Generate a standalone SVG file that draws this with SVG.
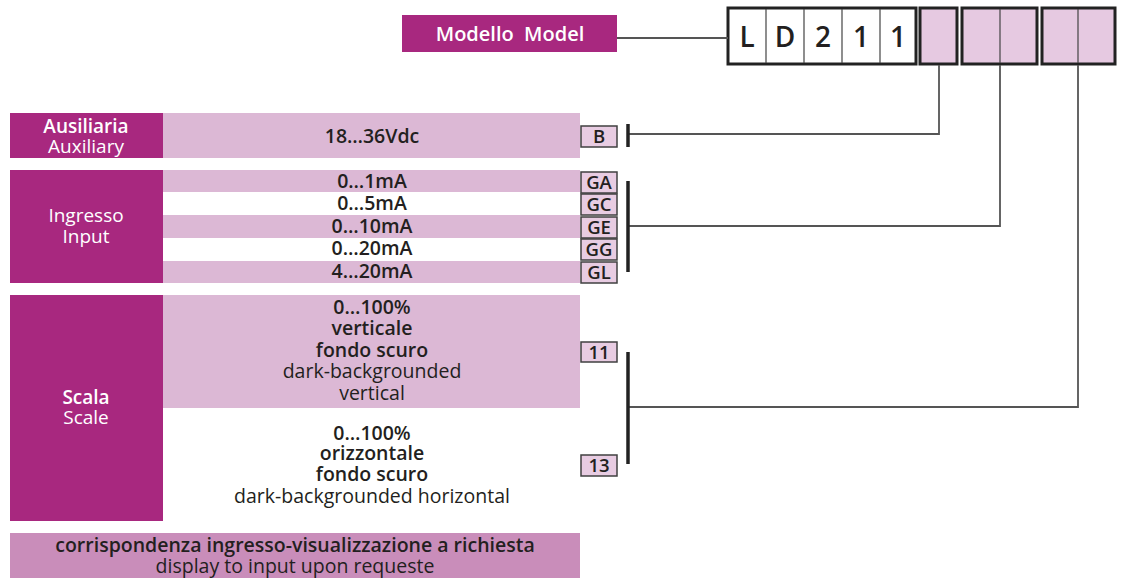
<svg xmlns="http://www.w3.org/2000/svg" width="1121" height="578" viewBox="0 0 1121 578">
<style>
text{font-family:"Open Sans","Liberation Sans",sans-serif;fill:#231f20;text-anchor:middle}
.w{fill:#ffffff}
.sb{font-weight:600}
.n{font-weight:400}
.t{font-size:19.5px}
.h{font-size:19px}
.head{fill:#a8287f}
.bar{fill:#dcb8d5}
.code rect{fill:#e8cce2;stroke:#404040;stroke-width:1.5}
.code text{font-size:18.5px;font-weight:600}
.cell{fill:#e6c9e1;stroke:#222;stroke-width:3}
.div{stroke:#444;stroke-width:1.2}
.conn{fill:none;stroke:#555;stroke-width:1.8}
.brk{stroke:#222;stroke-width:3.5}
</style>

<g id="model">
<rect class="head" x="402" y="15" width="215" height="37"/>
<text class="w sb" x="510" y="41" font-size="20">Modello&#160; Model</text>
</g>

<g id="code-fixed">
<rect x="728" y="8" width="188" height="56" fill="#fff" stroke="#222" stroke-width="3"/>
<line class="div" x1="766" y1="9" x2="766" y2="63"/>
<line class="div" x1="804" y1="9" x2="804" y2="63"/>
<line class="div" x1="842" y1="9" x2="842" y2="63"/>
<line class="div" x1="880" y1="9" x2="880" y2="63"/>
<text class="sb" x="747" y="47" font-size="28">L</text>
<text class="sb" x="785" y="47" font-size="28">D</text>
<text class="sb" x="823" y="47" font-size="28">2</text>
<text class="sb" x="861" y="47" font-size="28">1</text>
<text class="sb" x="898" y="47" font-size="28">1</text>
</g>
<g id="code-aux"><rect class="cell" x="920" y="8" width="37" height="56"/></g>
<g id="code-input"><rect class="cell" x="962" y="8" width="75" height="56"/><line class="div" x1="1000" y1="9" x2="1000" y2="63"/></g>
<g id="code-scale"><rect class="cell" x="1042" y="8" width="73" height="56"/><line class="div" x1="1078" y1="9" x2="1078" y2="63"/></g>

<g id="connectors">
<line class="conn" x1="617" y1="38" x2="728" y2="38"/>
<polyline class="conn" points="939,65 939,134 628,134"/>
<polyline class="conn" points="1000,65 1000,226 628,226"/>
<polyline class="conn" points="1078,65 1078,407 628,407"/>
<line class="brk" x1="628" y1="124" x2="628" y2="147"/>
<line class="brk" x1="628" y1="181" x2="628" y2="272"/>
<line class="brk" x1="628" y1="352" x2="628" y2="464"/>
</g>

<g id="auxiliary">
<rect class="head" x="10" y="113" width="153" height="45"/>
<rect class="bar" x="163" y="113" width="417" height="45"/>
<text class="w sb h" x="86" y="133">Ausiliaria</text>
<text class="w n h" x="86" y="153">Auxiliary</text>
<text class="sb t" x="372" y="143">18…36Vdc</text>
<g class="code"><rect x="581" y="126" width="36" height="21"/><text x="599" y="143">B</text></g>
</g>

<g id="input">
<rect class="head" x="10" y="170" width="153" height="113"/>
<rect class="bar" x="163" y="170" width="417" height="22"/>
<rect class="bar" x="163" y="215" width="417" height="23"/>
<rect class="bar" x="163" y="261" width="417" height="22"/>
<text class="w n h" x="86" y="222">Ingresso</text>
<text class="w n h" x="86" y="243">Input</text>
<text class="sb t" x="372" y="188">0…1mA</text>
<text class="sb t" x="372" y="210">0…5mA</text>
<text class="sb t" x="372" y="233">0…10mA</text>
<text class="sb t" x="372" y="255">0…20mA</text>
<text class="sb t" x="372" y="278">4…20mA</text>
<g class="code">
<rect x="581" y="172" width="36" height="21"/><text x="599" y="189">GA</text>
<rect x="581" y="194" width="36" height="21"/><text x="599" y="211">GC</text>
<rect x="581" y="217" width="36" height="21"/><text x="599" y="234">GE</text>
<rect x="581" y="239" width="36" height="21"/><text x="599" y="256">GG</text>
<rect x="581" y="262" width="36" height="21"/><text x="599" y="279">GL</text>
</g>
</g>

<g id="scale">
<rect class="head" x="10" y="295" width="153" height="226"/>
<rect class="bar" x="163" y="295" width="417" height="113"/>
<text class="w sb h" x="86" y="404">Scala</text>
<text class="w n h" x="86" y="424">Scale</text>
<text class="sb t" x="372" y="314">0…100%</text>
<text class="sb t" x="372" y="335">verticale</text>
<text class="sb t" x="372" y="357">fondo scuro</text>
<text class="n t" x="372" y="378">dark-backgrounded</text>
<text class="n t" x="372" y="400">vertical</text>
<text class="sb t" x="372" y="440">0…100%</text>
<text class="sb t" x="372" y="460">orizzontale</text>
<text class="sb t" x="372" y="481">fondo scuro</text>
<text class="n t" x="372" y="503">dark-backgrounded horizontal</text>
<g class="code">
<rect x="581" y="342" width="36" height="20"/><text x="599" y="359">11</text>
<rect x="581" y="455" width="36" height="21"/><text x="599" y="472">13</text>
</g>
</g>

<g id="note">
<rect x="10" y="533" width="570" height="45" fill="#c98dba"/>
<text class="sb t" x="295" y="552">corrispondenza ingresso-visualizzazione a richiesta</text>
<text class="n t" x="295" y="573">display to input upon requeste</text>
</g>
</svg>
